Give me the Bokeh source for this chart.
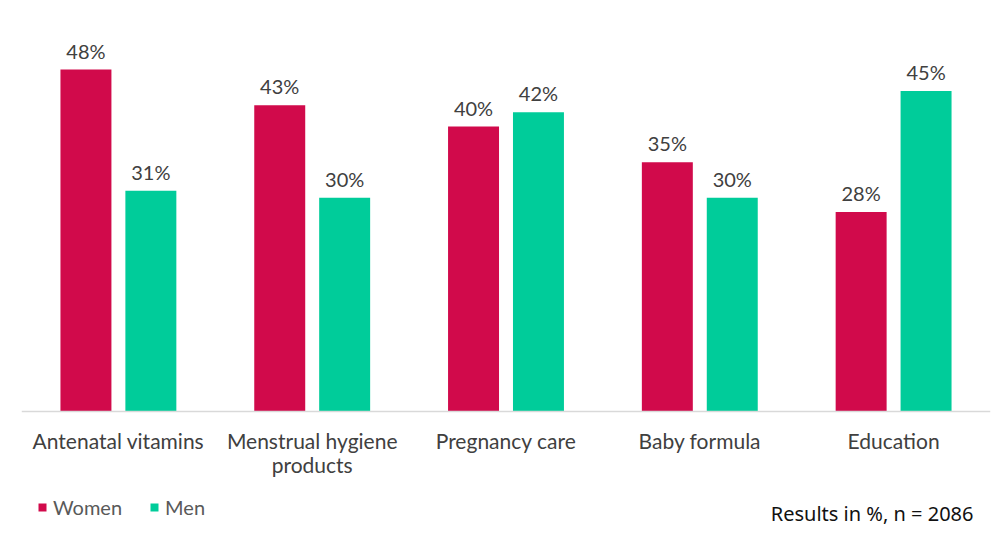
from bokeh.plotting import figure
from bokeh.models import ColumnDataSource, FactorRange, Range1d, Legend, LegendItem, Label
from bokeh.transform import dodge
from bokeh.core.properties import value
from bokeh.embed import file_html
from bokeh.resources import INLINE

categories = ["Antenatal vitamins", "Menstrual hygiene products", "Pregnancy care", "Baby formula", "Education"]
category_labels = ["Antenatal vitamins", "Menstrual hygiene\nproducts", "Pregnancy care", "Baby formula", "Education"]
women = [48, 43, 40, 35, 28]
men = [31, 30, 42, 30, 45]
series_names = ["Women", "Men"]
note = "Results in %, n = 2086"

WOMEN_C = "#D10A4B"
MEN_C = "#00CC9A"
TXT = "#404040"
FONT = "Lato"
PX = 7.125  # pixels per percentage point

src = ColumnDataSource(dict(
    cat=categories,
    catlab=category_labels,
    zero=[0] * len(categories),
    women=women,
    men=men,
    wlab=[f"{v}%" for v in women],
    mlab=[f"{v}%" for v in men],
))

p = figure(width=992, height=537, output_backend="svg", toolbar_location=None,
           x_range=FactorRange(*categories, range_padding=0),
           y_range=Range1d(-(537 - 411) / PX, (411 - 19) / PX),
           min_border_left=21, min_border_right=2, min_border_top=19, min_border_bottom=0)
p.outline_line_color = None
p.xgrid.visible = False
p.ygrid.visible = False
p.yaxis.visible = False
p.background_fill_color = "white"

off = 0.1675
bw = 0.263
rw = p.vbar(x=dodge("cat", -off, range=p.x_range), top="women", width=bw, source=src,
            fill_color=WOMEN_C, line_color=None)
rm = p.vbar(x=dodge("cat", off, range=p.x_range), top="men", width=bw, source=src,
            fill_color=MEN_C, line_color=None)

for col, lab, o in (("women", "wlab", -off), ("men", "mlab", off)):
    p.text(x=dodge("cat", o, range=p.x_range), y=col, text=lab, source=src,
           text_align="center", text_baseline="alphabetic", y_offset=-19,
           text_font=value(FONT), text_font_size="20px", text_color=TXT)

ax = p.xaxis[0]
ax.fixed_location = 0
ax.axis_line_color = "#D9D9D9"
ax.axis_line_width = 1.5
ax.major_tick_line_color = None
ax.minor_tick_line_color = None
ax.major_label_text_font_size = "0px"
ax.major_label_text_alpha = 0

# category labels (multi-line capable)
p.text(x="cat", y="zero", text="catlab", source=src, y_offset=16,
       text_align="center", text_baseline="top", text_line_height=0.98,
       text_font=value(FONT), text_font_size="21px", text_color=TXT)

legend = Legend(items=[LegendItem(label=series_names[0], renderers=[rw]),
                       LegendItem(label=series_names[1], renderers=[rm])],
                orientation="horizontal", location=(16, 18),
                glyph_width=10, glyph_height=10, label_standoff=6, spacing=27,
                padding=0, margin=0, border_line_color=None, background_fill_alpha=0,
                label_text_font=FONT, label_text_font_size="20px", label_text_color="#595959")
p.add_layout(legend)

p.add_layout(Label(x=4.912, y=-(513 - 411) / PX, text=note, text_align="right",
                   text_baseline="alphabetic", text_font="Noto Sans", text_font_size="20px",
                   text_color="#111111"))

open("out.html", "w").write(file_html(p, INLINE))
